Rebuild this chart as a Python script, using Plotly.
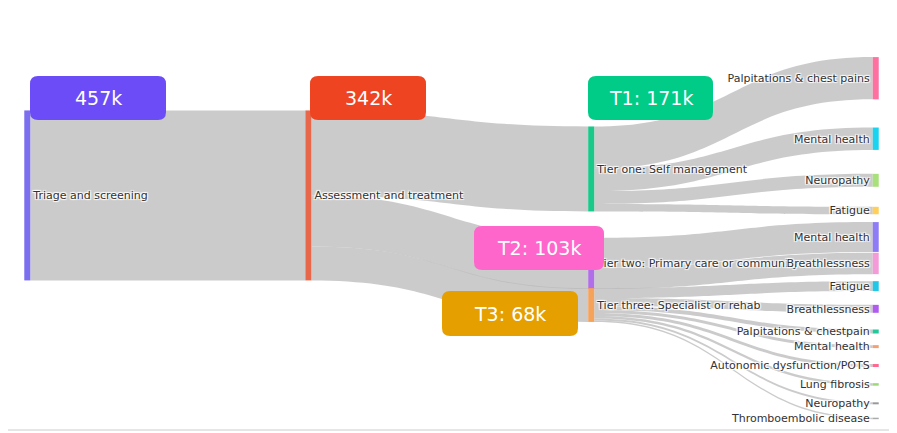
import plotly.graph_objects as go

labels = ["Triage and screening", "Assessment and treatment",
          "Tier one: Self management", "Tier two: Primary care or community", "Tier three: Specialist or rehab",
          "Palpitations & chest pains", "Mental health", "Neuropathy", "Fatigue",
          "Mental health", "Breathlessness",
          "Fatigue", "Breathlessness", "Palpitations & chestpain", "Mental health",
          "Autonomic dysfunction/POTS", "Lung fibrosis", "Neuropathy", "Thromboembolic disease"]
node_colors = ["#7b6ff0", "#e8674a", "#19c98a", "#b06ee8", "#f5a25a",
               "#ff6f9f", "#19d3f0", "#a8e07a", "#ffcf5a",
               "#8d7cf5", "#f59ad9",
               "#22c7e8", "#b05af0", "#22c79a", "#f5a070",
               "#ff6690", "#9ed67a", "#999999", "#aaaaaa"]
sources = [0, 1, 1, 1, 2, 2, 2, 2, 3, 3, 4, 4, 4, 4, 4, 4, 4, 4]
targets = [1, 2, 3, 4, 5, 6, 7, 8, 9, 10, 11, 12, 13, 14, 15, 16, 17, 18]
values = [342, 171, 103, 68, 85, 45, 26, 15, 60, 43, 20, 16, 8, 6, 6, 5, 4, 3]
node_x = [0.005, 0.333, 0.663, 0.663, 0.663] + [0.995] * 14
node_y = [0.39, 0.39, 0.32, 0.57, 0.68,
          0.08, 0.24, 0.35, 0.43, 0.50, 0.57,
          0.63, 0.69, 0.75, 0.79, 0.84, 0.89, 0.94, 0.98]

W, H = 897, 433
fig = go.Figure(go.Sankey(
    arrangement="fixed",
    domain=dict(x=[15 / W, 872 / W], y=[15 / H, 1 - 40 / H]),
    node=dict(label=labels, color=node_colors, x=node_x, y=node_y, pad=16, thickness=6,
              line=dict(width=0)),
    link=dict(source=sources, target=targets, value=values, color="rgba(185,185,185,0.75)"),
    textfont=dict(family="DejaVu Sans", size=11, color="#333333"),
))

boxes = [("457k", 22, 158, 68, 112, "#6b4cf6"),
         ("342k", 302, 418, 68, 112, "#ee4422"),
         ("T1: 171k", 580, 705, 68, 112, "#00cc88"),
         ("T2: 103k", 466, 596, 218, 262, "#ff66cc"),
         ("T3: 68k", 434, 570, 283, 328, "#e5a000")]


def rr(x0, x1, y0, y1, r=8):
    X = lambda v: v / W
    Y = lambda v: 1 - v / H
    return (f"M {X(x0 + r)} {Y(y0)} L {X(x1 - r)} {Y(y0)} Q {X(x1)} {Y(y0)} {X(x1)} {Y(y0 + r)} "
            f"L {X(x1)} {Y(y1 - r)} Q {X(x1)} {Y(y1)} {X(x1 - r)} {Y(y1)} "
            f"L {X(x0 + r)} {Y(y1)} Q {X(x0)} {Y(y1)} {X(x0)} {Y(y1 - r)} "
            f"L {X(x0)} {Y(y0 + r)} Q {X(x0)} {Y(y0)} {X(x0 + r)} {Y(y0)} Z")


shapes, anns = [], []
for t, x0, x1, y0, y1, c in boxes:
    shapes.append(dict(type="path", xref="paper", yref="paper", path=rr(x0, x1, y0, y1),
                       fillcolor=c, line=dict(width=0), layer="above"))
    anns.append(dict(text=t, xref="paper", yref="paper", x=(x0 + x1) / 2 / W, y=1 - (y0 + y1) / 2 / H,
                     xanchor="center", yanchor="middle",
                     showarrow=False, font=dict(family="DejaVu Sans", size=19, color="white")))
shapes.append(dict(type="line", xref="paper", yref="paper", x0=887 / W, x1=887 / W, y0=1 - 422 / H, y1=1 - 15 / H,
                   line=dict(color="#dddddd", width=1)))
shapes.append(dict(type="line", xref="paper", yref="paper", x0=0, x1=887 / W, y0=1 - 422 / H, y1=1 - 422 / H,
                   line=dict(color="#cccccc", width=1)))

fig.update_layout(width=W, height=H, margin=dict(l=0, r=0, t=0, b=0),
                  paper_bgcolor="white", shapes=shapes, annotations=anns)
fig.write_html("out.html")
